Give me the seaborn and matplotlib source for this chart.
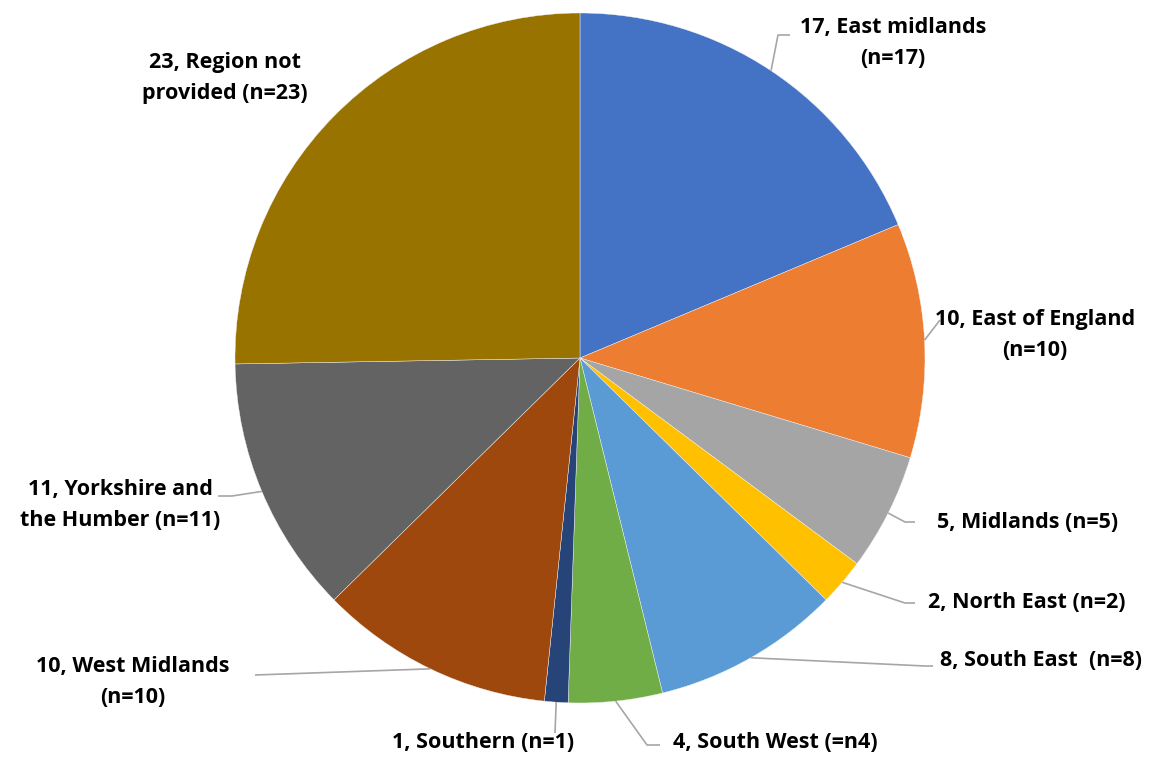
import numpy as np
import matplotlib
matplotlib.use("Agg")
import matplotlib.pyplot as plt
import seaborn as sns

regions = ["East midlands", "East of England", "Midlands", "North East", "South East",
           "South West", "Southern", "West Midlands", "Yorkshire and the Humber",
           "Region not provided"]
counts = [17, 10, 5, 2, 8, 4, 1, 10, 11, 23]
labels = ["17, East midlands\n(n=17)", "10, East of England\n(n=10)", "5, Midlands (n=5)",
          "2, North East (n=2)", "8, South East  (n=8)", "4, South West (=n4)",
          "1, Southern (n=1)", "10, West Midlands\n(n=10)", "11, Yorkshire and\nthe Humber (n=11)",
          "23, Region not\nprovided (n=23)"]
colors = ["#4472C4", "#ED7D31", "#A5A5A5", "#FFC000", "#5B9BD5",
          "#70AD47", "#264478", "#9E480E", "#636363", "#997300"]

# layout (pixel coordinates, y measured from top)
W, H = 1157, 758
CX, CY, R = 580, 358, 345
label_pos = [(893, 43), (1035, 335), (1028, 522), (1027, 603), (1041, 661),
             (775, 743), (483, 743), (133, 682), (120, 505), (225, 78)]
elbows = [(778, 35), (940, 320), (905, 522), (905, 603), (925, 666),
          (647, 745), (555, 733), (255, 675), (232, 496), None]
stubs = [12, 0, 10, 10, 8, 13, 0, 0, -14, 0]

sns.set_theme(style="white")
plt.rcParams['font.family'] = ['Open Sans', 'DejaVu Sans']

fig = plt.figure(figsize=(W / 100, H / 100), dpi=100)
ax = fig.add_axes([0, 0, 1, 1])

def fy(y):
    return H - y

wedges, _ = ax.pie(counts, colors=sns.color_palette(colors), startangle=90,
                   counterclock=False, center=(CX, fy(CY)), radius=R,
                   wedgeprops=dict(linewidth=0.3, edgecolor="#f4f4f4"))
ax.set_xlim(0, W)
ax.set_ylim(0, H)
ax.set_aspect('equal')
ax.axis('off')

for w, lab, pos, el, st in zip(wedges, labels, label_pos, elbows, stubs):
    ang = np.deg2rad((w.theta1 + w.theta2) / 2)
    ax_x = CX + R * np.cos(ang)
    ax_y = fy(CY) + R * np.sin(ang)
    if el is not None:
        xs = [ax_x, el[0]]
        ys = [ax_y, fy(el[1])]
        if st:
            xs.append(el[0] + st)
            ys.append(fy(el[1]))
        ax.plot(xs, ys, color="#A6A6A6", lw=1.2, solid_capstyle="butt", zorder=1)
    ax.text(pos[0], fy(pos[1]), lab, ha="center", va="center", ma="center",
            fontsize=15.5, fontweight="bold", family="Open Sans",
            color="#000000", linespacing=1.6)

fig.savefig("out.png", dpi=100)
